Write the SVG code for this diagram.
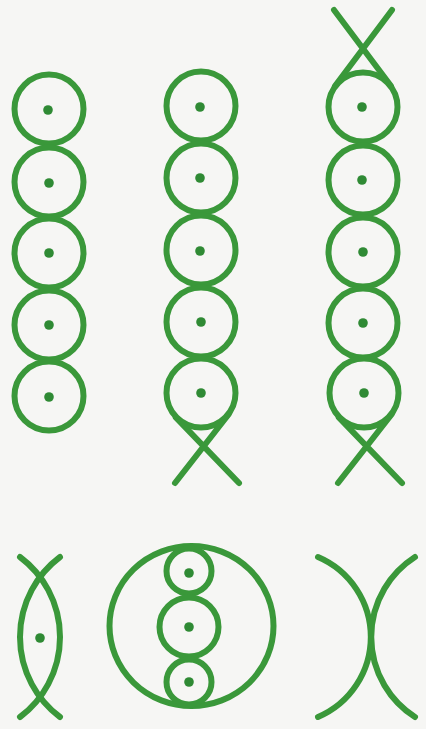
<svg xmlns="http://www.w3.org/2000/svg" width="426" height="729" viewBox="0 0 426 729">
<defs>
<style>
.s{fill:none;stroke:#3a983a;stroke-width:6;stroke-linecap:round}
.d{fill:#2f8a34}
</style>
</defs>
<rect width="426" height="729" fill="#f6f6f4"/>
<g id="column1">
<circle class="s" cx="49" cy="109" r="34.5"/><circle class="d" cx="48" cy="110" r="4.8"/>
<circle class="s" cx="49" cy="182" r="34.5"/><circle class="d" cx="49" cy="183" r="4.8"/>
<circle class="s" cx="49" cy="253" r="34.5"/><circle class="d" cx="49" cy="253" r="4.8"/>
<circle class="s" cx="49" cy="325" r="34.5"/><circle class="d" cx="49" cy="325" r="4.8"/>
<circle class="s" cx="49" cy="396" r="34.5"/><circle class="d" cx="49" cy="397" r="4.8"/>
</g>
<g id="column2">
<circle class="s" cx="201" cy="106" r="34.5"/><circle class="d" cx="200" cy="107" r="4.8"/>
<circle class="s" cx="201" cy="178" r="34.5"/><circle class="d" cx="200" cy="178" r="4.8"/>
<circle class="s" cx="201" cy="250" r="34.5"/><circle class="d" cx="200" cy="251" r="4.8"/>
<circle class="s" cx="201" cy="322" r="34.5"/><circle class="d" cx="201" cy="322" r="4.8"/>
<circle class="s" cx="201" cy="393" r="34.5"/><circle class="d" cx="201" cy="393" r="4.8"/>
<path class="s" d="M175.8 417.3 L239 483 M228.5 414.5 L175 483"/>
</g>
<g id="column3">
<circle class="s" cx="363" cy="107" r="34.5"/><circle class="d" cx="362" cy="107" r="4.8"/>
<circle class="s" cx="363" cy="180" r="34.5"/><circle class="d" cx="362" cy="180" r="4.8"/>
<circle class="s" cx="363" cy="252" r="34.5"/><circle class="d" cx="363" cy="252" r="4.8"/>
<circle class="s" cx="363" cy="323" r="34.5"/><circle class="d" cx="363" cy="323" r="4.8"/>
<circle class="s" cx="364" cy="393" r="34.5"/><circle class="d" cx="364" cy="393" r="4.8"/>
<path class="s" d="M334 10 L391 86 M392 10 L335 86"/>
<path class="s" d="M391.5 414.5 L338 483 M338.8 417.3 L402 483"/>
</g>
<g id="vesica">
<path class="s" d="M60 557 A100 100 0 0 0 60 717"/>
<path class="s" d="M20 557 A100 100 0 0 1 20 717"/>
<circle class="d" cx="40" cy="638" r="4.8"/>
</g>
<g id="big-circle">
<ellipse class="s" cx="191.5" cy="626" rx="82" ry="80"/>
<circle class="s" cx="189" cy="571" r="22.5"/><circle class="d" cx="189" cy="573" r="4.8"/>
<circle class="s" cx="189" cy="627" r="29.5"/><circle class="d" cx="189" cy="627" r="4.8"/>
<circle class="s" cx="189" cy="682" r="22.5"/><circle class="d" cx="189" cy="682" r="4.8"/>
</g>
<g id="arc-cross">
<path class="s" d="M318 557 A87 87 0 0 1 318 717"/>
<path class="s" d="M415 557 A95 95 0 0 0 415 717"/>
</g>
</svg>
